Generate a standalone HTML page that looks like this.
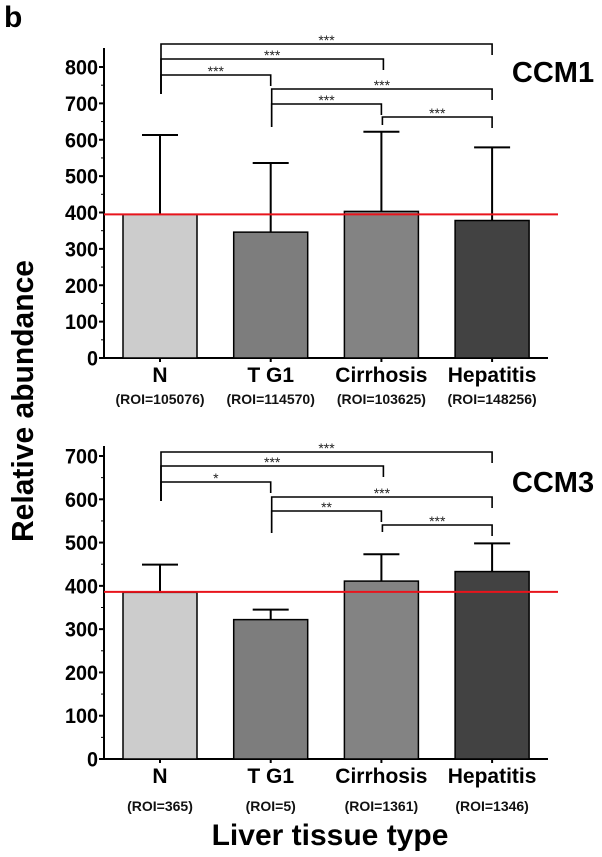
<!DOCTYPE html>
<html><head><meta charset="utf-8"><style>
html,body{margin:0;padding:0;background:#fff;}
svg{display:block;font-family:"Liberation Sans",Arial,sans-serif;}
</style></head><body>
<svg id="chart" width="602" height="857" viewBox="0 0 602 857" xmlns="http://www.w3.org/2000/svg">
<text x="4" y="27" font-size="30" font-weight="bold">b</text>
<text transform="translate(33,401) rotate(-90)" text-anchor="middle" font-size="31" font-weight="bold" textLength="282" lengthAdjust="spacingAndGlyphs">Relative abundance</text>
<text x="330" y="845" text-anchor="middle" font-size="30" font-weight="bold">Liver tissue type</text>
</svg>
<script>
const categories = ["N", "T G1", "Cirrhosis", "Hepatitis"];
const barColors = ["#cccccc", "#7d7d7d", "#838383", "#424242"];
const ccm1Values = [395, 346, 403, 378];
const ccm1Errors = [613, 536, 622, 579];
const ccm1Ref = 395;
const ccm1Roi = ["(ROI=105076)", "(ROI=114570)", "(ROI=103625)", "(ROI=148256)"];
const ccm1Ticks = [0, 100, 200, 300, 400, 500, 600, 700, 800];
const ccm1Sig = [[0,3,"***"],[0,2,"***"],[0,1,"***"],[1,3,"***"],[1,2,"***"],[2,3,"***"]];
const ccm3Values = [385, 322, 411, 433];
const ccm3Errors = [449, 345, 473, 498];
const ccm3Ref = 386;
const ccm3Roi = ["(ROI=365)", "(ROI=5)", "(ROI=1361)", "(ROI=1346)"];
const ccm3Ticks = [0, 100, 200, 300, 400, 500, 600, 700];
const ccm3Sig = [[0,3,"***"],[0,2,"***"],[0,1,"*"],[1,3,"***"],[1,2,"**"],[2,3,"***"]];

const svg = document.getElementById('chart');
const NS = 'http://www.w3.org/2000/svg';
function mk(tag, attrs, parent) {
  const e = document.createElementNS(NS, tag);
  for (const k in attrs) e.setAttribute(k, attrs[k]);
  (parent || svg).appendChild(e);
  return e;
}
function xc(i) { return 160 + i * 110.7; }

function panel(p) {
  const g = mk('g', {});
  
  
  const y = v => p.y0 - (v / p.max) * (p.y0 - p.yMax);
  const ya = mk('line', {x1:104, y1:p.axisTop, x2:104, y2:p.y0+1, stroke:'#000', 'stroke-width':2}, g);
  
  
  const xa = mk('line', {x1:103, y1:p.y0, x2:548, y2:p.y0, stroke:'#000', 'stroke-width':2}, g);
  
  
  p.ticks.forEach((t, k) => {
    mk('line', {x1:99, y1:y(t), x2:104, y2:y(t), stroke:'#000', 'stroke-width':2}, g);
    if (k < p.ticks.length - 1) {
      const m = (t + p.ticks[k+1]) / 2;
      mk('line', {x1:101, y1:y(m), x2:104, y2:y(m), stroke:'#000', 'stroke-width':1}, g);
    }
    const tl = mk('text', {x:98, y:y(t)+7.5, 'text-anchor':'end', 'font-size':21, 'font-weight':'bold', textLength: String(t).length*11, lengthAdjust:'spacingAndGlyphs'}, g);
    tl.textContent = t;
    
    
  });
  categories.forEach((c, i) => {
    const cx = xc(i);
    const eb = mk('path', {d:`M${cx} ${y(p.values[i])} V${y(p.errors[i])} M${cx-18} ${y(p.errors[i])} H${cx+18}`, stroke:'#000', 'stroke-width':2, fill:'none'}, g);
    
    
    const b = mk('rect', {x:cx-37, y:y(p.values[i]), width:74, height:p.y0 - y(p.values[i]), fill:barColors[i], stroke:'#000', 'stroke-width':1.5}, g);
    
    
    mk('line', {x1:cx, y1:p.y0, x2:cx, y2:p.y0+4, stroke:'#000', 'stroke-width':2}, g);
    const cl = mk('text', {x:cx, y:p.y0+24, 'text-anchor':'middle', 'font-size':21, 'font-weight':'bold'}, g);
    cl.textContent = c;
    
    
    const rl = mk('text', {x:cx, y:p.roiY, 'text-anchor':'middle', 'font-size':14, 'font-weight':'bold', fill:'#111'}, g);
    rl.textContent = p.roi[i];
    
    
  });
  const rf = mk('line', {x1:104, y1:y(p.ref), x2:558, y2:y(p.ref), stroke:'#e8141c', 'stroke-width':2}, g);
  
  
  p.sig.forEach((s, k) => {
    const by = p.brY[k];
    const x1 = xc(s[0]) + 1, x2 = xc(s[1]) + (s[1] === 2 && s[0] === 0 ? 2 : 0);
    const br = mk('path', {d:`M${x1} ${p.legL[k]} V${by} H${x2} V${by+11}`, stroke:'#000', 'stroke-width':1.6, fill:'none'}, g);
    
    
    const st = mk('text', {x:(x1+x2)/2, y:by+1, 'text-anchor':'middle', 'font-size':14, fill:'#222'}, g);
    st.textContent = s[2];
    
    
  });
  const tt = mk('text', {x:553, y:p.titleY, 'text-anchor':'middle', 'font-size':29, 'font-weight':'bold'}, g);
  tt.textContent = p.title;
  
  
}

panel({name:'ccm1-panel', title:'CCM1', titleY:82, y0:358, yMax:67, max:800, axisTop:48,
  values:ccm1Values, errors:ccm1Errors, ref:ccm1Ref, roi:ccm1Roi, ticks:ccm1Ticks, sig:ccm1Sig,
  roiY:404, brY:[44,59,75,89,104,117], legL:[94,94,94,127,127,125]});
panel({name:'ccm3-panel', title:'CCM3', titleY:492, y0:759, yMax:456, max:700, axisTop:446,
  values:ccm3Values, errors:ccm3Errors, ref:ccm3Ref, roi:ccm3Roi, ticks:ccm3Ticks, sig:ccm3Sig,
  roiY:811, brY:[452,466,482,497,511,525], legL:[501,501,501,533,533,532]});
</script>
</body></html>
